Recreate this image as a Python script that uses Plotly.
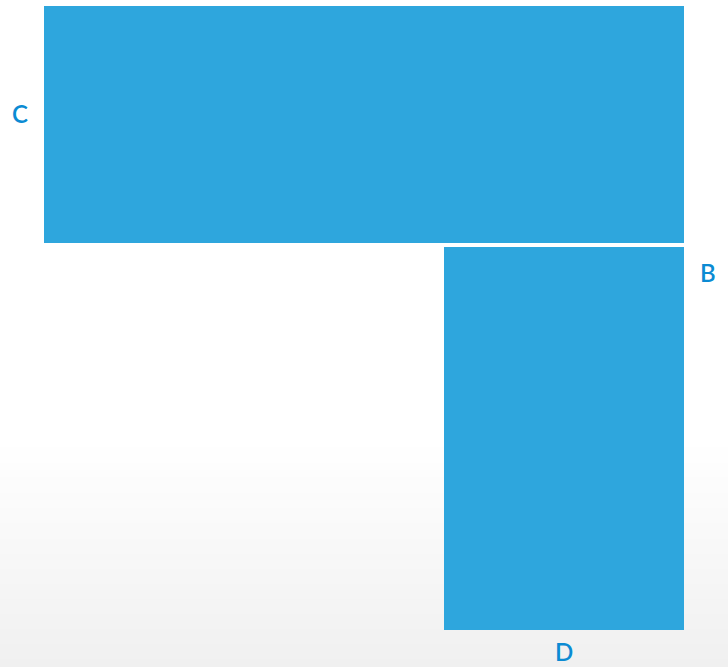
import plotly.graph_objects as go

# Data
row_categories = ["C"]
row_values = [100]
col_categories = ["D"]
col_values = [100]
side_labels = ["B"]

BAR_COLOR = "#2ea6dd"
LABEL_COLOR = "#0b8bd3"
FONT = dict(family="Lato, Open Sans, sans-serif", size=24, color=LABEL_COLOR, weight=600)

fig = go.Figure()

fig.add_trace(go.Bar(
    orientation="h", y=row_categories, x=row_values, width=1,
    marker=dict(color=BAR_COLOR, line=dict(width=0)),
    xaxis="x", yaxis="y", showlegend=False, hoverinfo="skip",
))
fig.add_trace(go.Bar(
    x=col_categories, y=col_values, width=1,
    marker=dict(color=BAR_COLOR, line=dict(width=0)),
    xaxis="x2", yaxis="y2", showlegend=False, hoverinfo="skip",
))

# background gradient bands (white -> light gray toward bottom)
n = 30
y_start, y_end = 440, 667
H = 667
top_m, bot_m = 6, 37
plot_h = H - top_m - bot_m
for i in range(n):
    y0 = y_start + (y_end - y_start) * i / n
    y1 = y_start + (y_end - y_start) * (i + 1) / n + 1
    t = (i + 0.5) / n
    c = int(round(255 - 15 * t))
    fig.add_shape(
        type="rect", xref="paper", yref="paper",
        x0=-0.1, x1=1.1,
        y0=(H - bot_m - y1) / plot_h, y1=(H - bot_m - y0) / plot_h,
        fillcolor=f"rgb({c},{c},{c})", line=dict(width=0), layer="below",
    )

for lab in side_labels:
    fig.add_annotation(
        text=lab, xref="paper", yref="paper", x=1.0, y=(630 - 272) / plot_h,
        xanchor="left", yanchor="middle", xshift=14, showarrow=False, font=FONT,
    )

fig.update_layout(
    width=728, height=667,
    margin=dict(l=44, r=44, t=top_m, b=bot_m, autoexpand=False),
    paper_bgcolor="white", plot_bgcolor="rgba(0,0,0,0)",
    bargap=0,
    xaxis=dict(domain=[0, 1], range=[0, max(row_values)], visible=False, anchor="y",
               automargin=False),
    yaxis=dict(domain=[0.6202, 1.0], type="category", range=[-0.5, 0.5],
               showgrid=False, zeroline=False, showline=False, ticks="",
               ticklabelstandoff=15, ticklabelshift=-10, tickfont=FONT, anchor="x",
               automargin=False),
    xaxis2=dict(domain=[0.625, 1.0], type="category", range=[-0.5, 0.5],
                showgrid=False, zeroline=False, showline=False, ticks="",
                ticklabelstandoff=6, tickfont=FONT, anchor="y2", automargin=False),
    yaxis2=dict(domain=[0, 0.6138], range=[0, max(col_values)], visible=False, anchor="x2",
                automargin=False),
)

fig.write_html("out.html", config={"displayModeBar": False},
               post_script="document.body.style.margin='0';")
